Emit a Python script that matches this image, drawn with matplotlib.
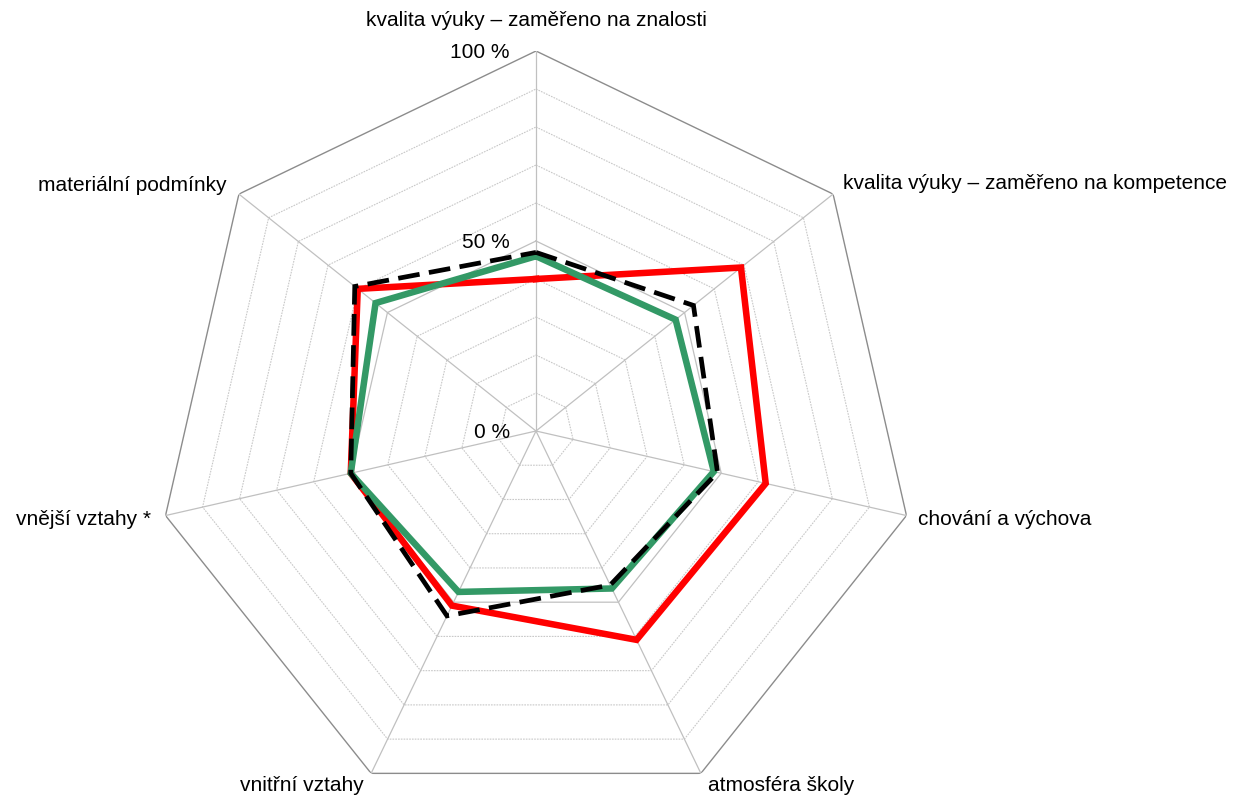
import matplotlib.pyplot as plt
import numpy as np

plt.rcParams["font.family"] = ["Liberation Sans", "DejaVu Sans"]

categories = [
    "kvalita výuky – zaměřeno na znalosti",
    "kvalita výuky – zaměřeno na kompetence",
    "chování a výchova",
    "atmosféra školy",
    "vnitřní vztahy",
    "vnější vztahy *",
    "materiální podmínky",
]
red_values = [40, 69, 62, 61, 51, 50, 60]
green_values = [46, 47, 48, 46, 47, 50, 54]
black_values = [47, 53, 49, 45, 54, 50, 61]

tick_values = [0, 50, 100]
tick_labels = ["0 %", "50 %", "100 %"]

# label offsets in pixels (x, y) from the outer vertex, with alignment
label_pos = [
    ((0, 31), "center"),
    ((10, 11), "left"),
    ((12, -4), "left"),
    ((7, -12), "left"),
    ((-7, -12), "right"),
    ((-15, -4), "right"),
    ((-12, 9), "right"),
]


def closed(values):
    return list(values) + [values[0]]


def main():
    n = len(categories)
    angles = np.linspace(0, 2 * np.pi, n, endpoint=False)
    angles_c = closed(angles)

    fig = plt.figure(figsize=(12.38, 7.97), dpi=100)
    ax = fig.add_axes([156 / 1238, -14 / 797, 760 / 1238, 760 / 797], projection="polar")
    ax.set_theta_zero_location("N")
    ax.set_theta_direction(-1)
    ax.set_ylim(0, 100)
    ax.axis("off")

    # grid rings
    for r in range(10, 101, 10):
        if r == 100:
            ax.plot(angles_c, [r] * (n + 1), color="#8c8c8c", lw=1.0)
        elif r == 50:
            ax.plot(angles_c, [r] * (n + 1), color="#c0c0c0", lw=0.9)
        else:
            ax.plot(angles_c, [r] * (n + 1), color="#c8c8c8", lw=0.8, ls=(0, (1.5, 1)))
    for a in angles:
        ax.plot([a, a], [0, 100], color="#c0c0c0", lw=0.9)

    ax.plot(angles_c, closed(red_values), color="#ff0000", lw=4.7, solid_joinstyle="miter")
    ax.plot(angles_c, closed(green_values), color="#339966", lw=4.7, solid_joinstyle="miter")
    ax.plot(angles_c, closed(black_values), color="black", lw=3.4,
            ls=(0, (4.6, 2.0)), dash_joinstyle="miter")

    for v, t in zip(tick_values, tick_labels):
        ax.annotate(t, xy=(0, v), xytext=(-26, -2), textcoords="offset pixels",
                    ha="right", va="center", fontsize=15)

    for a, label, (off, ha) in zip(angles, categories, label_pos):
        ax.annotate(label, xy=(a, 100), xytext=off, textcoords="offset pixels",
                    ha=ha, va="center", fontsize=15, annotation_clip=False)

    fig.savefig("out.png", dpi=100)
    plt.close(fig)


if __name__ == "__main__":
    main()
